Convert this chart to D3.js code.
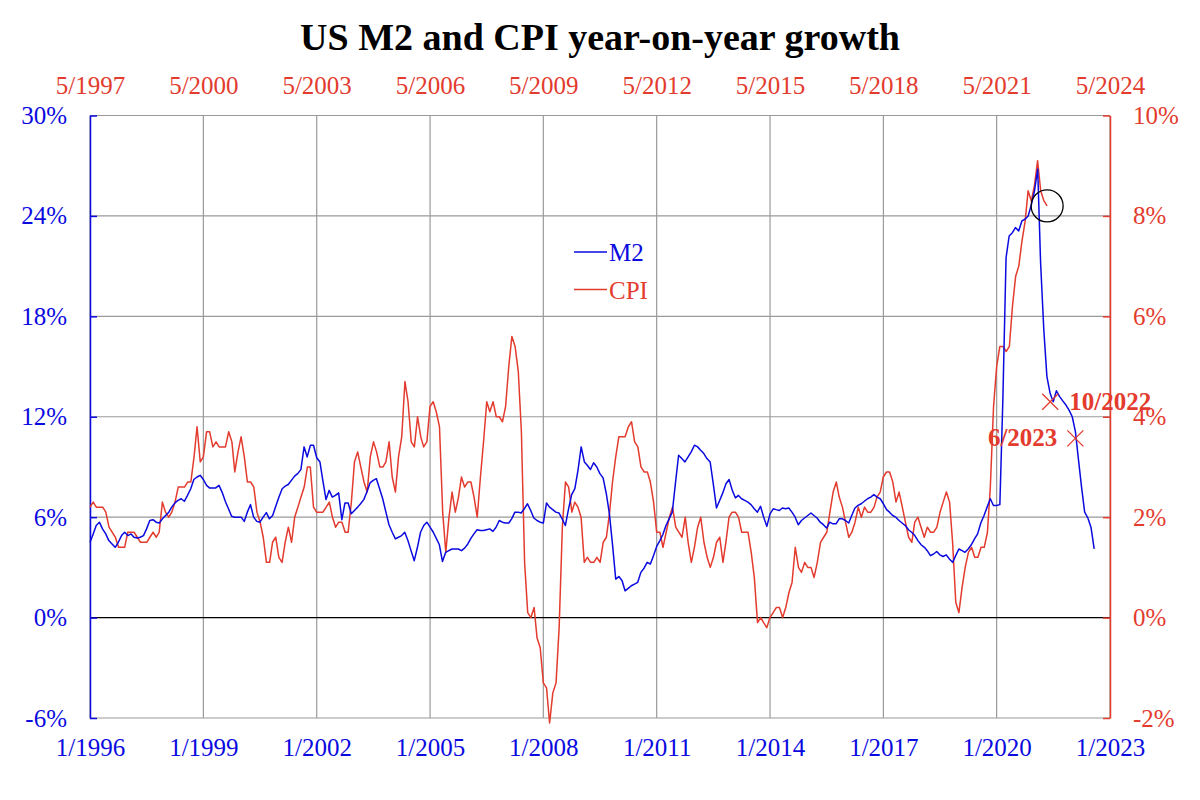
<!DOCTYPE html>
<html>
<head>
<meta charset="utf-8">
<script src="https://cdn.jsdelivr.net/npm/d3@7"></script>
<style>
  body { margin: 0; background: #fff; }
  text { font-family: "Liberation Serif", "Times New Roman", serif; }
</style>
</head>
<body>
<svg id="chart" width="1200" height="800"></svg>
<script>
// M2 year-on-year growth (%), monthly from 1/1996
const m2Start = new Date(1996, 0, 1);
const m2Values = [
  4.5, 5.0, 5.5, 5.7, 5.3, 5.0, 4.6, 4.4, 4.2, 4.5, 4.9, 5.1,
  4.9, 5.0, 4.8, 4.75, 4.8, 4.9, 5.3, 5.8, 5.85, 5.7, 5.65, 5.9,
  6.1, 6.3, 6.6, 6.85, 7.0, 7.1, 6.95, 7.3, 7.7, 8.25, 8.4, 8.5,
  8.25, 7.9, 7.75, 7.75, 7.75, 7.9, 7.5, 6.95, 6.5, 6.05, 6.0, 6.0,
  6.0, 5.75, 6.3, 6.75, 6.0, 5.75, 5.7, 6.0, 6.27, 5.9, 6.1, 6.65,
  7.2, 7.7, 7.85, 7.95, 8.2, 8.45, 8.6, 8.84, 10.2, 9.6, 10.3, 10.3,
  9.55, 9.3, 8.2, 7.05, 7.6, 7.2, 7.3, 7.45, 5.85, 6.85, 6.85, 6.2,
  6.4, 6.6, 6.8, 7.05, 7.5, 8.05, 8.2, 8.3, 7.7, 7.1, 6.3, 5.55,
  5.1, 4.7, 4.8, 4.9, 5.1, 4.6, 4.0, 3.4, 4.2, 5.1, 5.5, 5.7,
  5.4, 5.1, 4.75, 4.35, 3.35, 3.9, 4.0, 4.1, 4.1, 4.1, 4.0, 4.15,
  4.4, 4.75, 5.0, 5.25, 5.2, 5.2, 5.25, 5.3, 5.15, 5.4, 5.8, 5.7,
  5.65, 5.65, 5.9, 6.3, 6.3, 6.25, 6.5, 6.8, 6.4, 5.95, 5.8, 5.7,
  5.65, 6.85, 6.6, 6.45, 6.3, 6.25, 5.9, 5.5, 6.5, 7.35, 7.7, 8.8,
  10.2, 9.3, 9.1, 8.85, 9.25, 9.0, 8.6, 8.35, 7.4, 6.2, 4.3, 2.3,
  2.45, 2.2, 1.6, 1.75, 1.9, 2.0, 2.1, 2.7, 2.95, 3.3, 3.2, 3.7,
  4.25, 4.6, 4.95, 5.5, 5.9, 6.3, 8.0, 9.7, 9.5, 9.3, 9.6, 9.9,
  10.3, 10.2, 10.0, 9.8, 9.5, 9.3, 8.0, 6.55, 7.0, 7.45, 8.0, 8.25,
  7.6, 7.15, 7.3, 7.1, 7.0, 6.9, 6.75, 6.5, 6.3, 6.65, 6.0, 5.45,
  6.2, 6.5, 6.45, 6.4, 6.55, 6.5, 6.55, 6.3, 6.0, 5.55, 5.8, 5.95,
  6.1, 6.25, 6.1, 5.95, 5.7, 5.55, 5.35, 5.7, 5.6, 5.6, 5.9, 5.9,
  5.8, 5.65, 6.1, 6.55, 6.7, 6.8, 6.95, 7.1, 7.2, 7.35, 7.2, 7.1,
  6.8, 6.45, 6.3, 6.1, 6.0, 5.8, 5.65, 5.5, 5.25, 5.1, 4.9, 4.6,
  4.35, 4.2, 4.0, 3.7, 3.8, 3.95, 3.75, 3.65, 3.75, 3.5, 3.3, 3.7,
  4.1, 4.0, 3.9, 4.1, 4.35, 4.7, 5.0, 5.65, 6.1, 6.6, 7.1, 6.7,
  6.7, 6.75, 13.0, 21.5, 22.8, 23.0, 23.3, 23.1, 23.7, 23.8, 24.0, 24.65,
  25.5, 26.8, 21.2, 17.2, 14.4, 13.4, 12.9, 13.55, 13.2, 12.95, 12.7, 12.4,
  12.0, 11.1, 9.5, 7.8, 6.3, 5.95, 5.4, 4.1
];

// CPI year-on-year growth (%), monthly from 5/1997 (plotted on the top axis)
const cpiStart = new Date(1997, 4, 1);
const cpiValues = [
  2.2, 2.3, 2.2, 2.2, 2.2, 2.1, 1.8, 1.7,
  1.6, 1.4, 1.4, 1.4, 1.7, 1.7, 1.7, 1.6, 1.5, 1.5, 1.5, 1.6,
  1.7, 1.6, 1.7, 2.3, 2.1, 2.0, 2.1, 2.3, 2.6, 2.6, 2.6, 2.7,
  2.7, 3.2, 3.8, 3.1, 3.2, 3.7, 3.7, 3.4, 3.5, 3.4, 3.4, 3.4,
  3.7, 3.5, 2.9, 3.3, 3.6, 3.2, 2.7, 2.7, 2.6, 2.1, 1.9, 1.6,
  1.1, 1.1, 1.5, 1.6, 1.2, 1.1, 1.5, 1.8, 1.5, 2.0, 2.2, 2.4,
  2.6, 3.0, 3.0, 2.2, 2.1, 2.1, 2.1, 2.2, 2.3, 2.0, 1.8, 1.9,
  1.9, 1.7, 1.7, 2.3, 3.1, 3.3, 3.0, 2.7, 2.5, 3.2, 3.5, 3.3,
  3.0, 3.0, 3.1, 3.5, 2.8, 2.5, 3.2, 3.6, 4.7, 4.3, 3.5, 3.4,
  4.0, 3.6, 3.4, 3.5, 4.2, 4.3, 4.1, 3.8, 2.1, 1.3, 2.0, 2.5,
  2.1, 2.4, 2.8, 2.6, 2.7, 2.7, 2.4, 2.0, 2.8, 3.5, 4.3, 4.1,
  4.3, 4.0, 4.0, 3.9, 4.2, 5.0, 5.6, 5.4, 4.9, 3.7, 1.1, 0.1,
  0.0, 0.2, -0.4, -0.6, -1.3, -1.4, -2.1, -1.5, -1.3, -0.2, 1.8, 2.7,
  2.6, 2.1, 2.3, 2.2, 2.0, 1.1, 1.2, 1.1, 1.1, 1.2, 1.1, 1.5,
  1.6, 2.1, 2.7, 3.2, 3.6, 3.6, 3.6, 3.8, 3.9, 3.5, 3.4, 3.0,
  2.9, 2.9, 2.7, 2.3, 1.7, 1.7, 1.4, 1.7, 2.0, 2.2, 1.8, 1.7,
  1.6, 2.0, 1.5, 1.1, 1.4, 1.8, 2.0, 1.5, 1.2, 1.0, 1.2, 1.5,
  1.6, 1.1, 1.5, 2.0, 2.1, 2.1, 2.0, 1.7, 1.7, 1.7, 1.3, 0.8,
  -0.1, 0.0, -0.1, -0.2, 0.0, 0.1, 0.2, 0.2, 0.0, 0.2, 0.5, 0.7,
  1.4, 1.0, 0.9, 1.1, 1.0, 1.0, 0.8, 1.1, 1.5, 1.6, 1.7, 2.1,
  2.5, 2.7, 2.4, 2.2, 1.9, 1.6, 1.7, 1.9, 2.2, 2.0, 2.2, 2.1,
  2.1, 2.2, 2.4, 2.5, 2.8, 2.9, 2.9, 2.7, 2.3, 2.5, 2.2, 1.9,
  1.6, 1.5, 1.9, 2.0, 1.8, 1.6, 1.8, 1.7, 1.7, 1.8, 2.1, 2.3,
  2.5, 2.3, 1.5, 0.3, 0.1, 0.6, 1.0, 1.3, 1.4, 1.2, 1.2, 1.4,
  1.4, 1.7, 2.6, 4.2, 5.0, 5.4, 5.4, 5.3, 5.4, 6.2, 6.8, 7.0,
  7.5, 7.9, 8.5, 8.3, 8.6, 9.1, 8.5, 8.3, 8.2
];

// CPI forecast points
const forecastDates = [new Date(2022, 9, 1), new Date(2023, 5, 1)];
const forecastValues = [4.3, 3.57];
const forecastLabels = ['10/2022', '6/2023'];

// axis ticks
const bottomTickLabels = ['1/1996', '1/1999', '1/2002', '1/2005', '1/2008', '1/2011', '1/2014', '1/2017', '1/2020', '1/2023'];
const topTickLabels = ['5/1997', '5/2000', '5/2003', '5/2006', '5/2009', '5/2012', '5/2015', '5/2018', '5/2021', '5/2024'];
const leftTicks = [-6, 0, 6, 12, 18, 24, 30];
const rightTicks = [-2, 0, 2, 4, 6, 8, 10];

const BLUE = '#0a0ae0';
const RED = '#e33b2e';

const svg = d3.select('#chart');
const margin = { top: 115.5, right: 90, bottom: 82, left: 90 };
const width = 1200 - margin.left - margin.right;
const height = 800 - margin.top - margin.bottom;
const g = svg.append('g').attr('transform', `translate(${margin.left},${margin.top})`);

const parseTick = d3.timeParse('%m/%Y');
const bottomDates = bottomTickLabels.map(parseTick);
const topDates = topTickLabels.map(parseTick);

const xBottom = d3.scaleTime().domain([bottomDates[0], bottomDates[bottomDates.length - 1]]).range([0, width]);
const xTop = d3.scaleTime().domain([topDates[0], topDates[topDates.length - 1]]).range([0, width]);
const yLeft = d3.scaleLinear().domain([-6, 30]).range([height, 0]);
const yRight = d3.scaleLinear().domain([-2, 10]).range([height, 0]);

const m2 = m2Values.map((v, i) => ({ date: d3.timeMonth.offset(m2Start, i), value: v }));
const cpi = cpiValues.map((v, i) => ({ date: d3.timeMonth.offset(cpiStart, i), value: v }));

// Title
svg.append('text')
    .attr('x', 600)
    .attr('y', 50)
    .attr('text-anchor', 'middle')
    .attr('font-size', 38)
    .attr('font-weight', 'bold')
    .attr('fill', '#000')
    .text('US M2 and CPI year-on-year growth');

// Grid lines
g.append('g')
    .selectAll('line')
    .data(bottomDates)
    .join('line')
    .attr('x1', d => xBottom(d))
    .attr('x2', d => xBottom(d))
    .attr('y1', 0)
    .attr('y2', height)
    .attr('stroke', '#9a9a9a')
    .attr('stroke-width', 1.2);

g.append('g')
    .selectAll('line')
    .data(leftTicks)
    .join('line')
    .attr('x1', 0)
    .attr('x2', width)
    .attr('y1', d => yLeft(d))
    .attr('y2', d => yLeft(d))
    .attr('stroke', d => d === 0 ? '#000' : '#9a9a9a')
    .attr('stroke-width', 1.2);

// Bottom axis (M2 dates)
const bottomAxis = g.append('g')
    .attr('transform', `translate(0,${height})`)
    .call(d3.axisBottom(xBottom).tickValues(bottomDates).tickSize(0).tickPadding(20)
        .tickFormat((d, i) => bottomTickLabels[i]));
bottomAxis.select('.domain').remove();
bottomAxis.selectAll('text').attr('fill', BLUE).attr('font-size', 25).attr('font-family', null);

// Top axis (CPI dates)
const topAxis = g.append('g')
    .call(d3.axisTop(xTop).tickValues(topDates).tickSize(0).tickPadding(22)
        .tickFormat((d, i) => topTickLabels[i]));
topAxis.select('.domain').remove();
topAxis.selectAll('text').attr('fill', RED).attr('font-size', 25).attr('font-family', null);

// Left axis (M2)
const leftAxis = g.append('g')
    .call(d3.axisLeft(yLeft).tickValues(leftTicks).tickSizeInner(-7).tickSizeOuter(0).tickPadding(23)
        .tickFormat(d => d + '%'));
leftAxis.select('.domain').attr('stroke', BLUE).attr('stroke-width', 1.5);
leftAxis.selectAll('.tick line').attr('stroke', BLUE).attr('stroke-width', 1.5);
leftAxis.selectAll('text').attr('fill', BLUE).attr('font-size', 25).attr('font-family', null);

// Right axis (CPI)
const rightAxis = g.append('g')
    .attr('transform', `translate(${width},0)`)
    .call(d3.axisRight(yRight).tickValues(rightTicks).tickSizeInner(-7).tickSizeOuter(0).tickPadding(23)
        .tickFormat(d => d + '%'));
rightAxis.select('.domain').attr('stroke', RED).attr('stroke-width', 1.5);
rightAxis.selectAll('.tick line').attr('stroke', RED).attr('stroke-width', 1.5);
rightAxis.selectAll('text').attr('fill', RED).attr('font-size', 25).attr('font-family', null);

// Lines
const m2Line = d3.line()
    .x(d => xBottom(d.date))
    .y(d => yLeft(d.value));

const cpiLine = d3.line()
    .x(d => xTop(d.date))
    .y(d => yRight(d.value));

g.append('path')
    .datum(cpi)
    .attr('fill', 'none')
    .attr('stroke', RED)
    .attr('stroke-width', 1.5)
    .attr('stroke-linejoin', 'round')
    .attr('d', cpiLine);

g.append('path')
    .datum(m2)
    .attr('fill', 'none')
    .attr('stroke', BLUE)
    .attr('stroke-width', 1.5)
    .attr('stroke-linejoin', 'round')
    .attr('d', m2Line);

// Circle around the latest CPI reading
const lastCpi = cpi[cpi.length - 1];
g.append('circle')
    .attr('cx', xTop(lastCpi.date))
    .attr('cy', yRight(lastCpi.value))
    .attr('r', 16)
    .attr('fill', 'none')
    .attr('stroke', '#000')
    .attr('stroke-width', 1.3);

// Forecast markers
const forecast = forecastDates.map((d, i) => ({ date: d, value: forecastValues[i], label: forecastLabels[i] }));
const marks = g.append('g')
    .selectAll('g')
    .data(forecast)
    .join('g')
    .attr('transform', d => `translate(${xTop(d.date)},${yRight(d.value)})`);

marks.append('path')
    .attr('d', 'M-8,-8L8,8M-8,8L8,-8')
    .attr('stroke', RED)
    .attr('stroke-width', 1.3)
    .attr('fill', 'none');

marks.append('text')
    .attr('x', (d, i) => i === 0 ? 19 : -18)
    .attr('y', 8)
    .attr('text-anchor', (d, i) => i === 0 ? 'start' : 'end')
    .attr('font-size', 25)
    .attr('font-weight', 'bold')
    .attr('fill', RED)
    .text(d => d.label);

// Legend
const legend = svg.append('g').attr('transform', 'translate(574,252)');
[{ name: 'M2', color: BLUE }, { name: 'CPI', color: RED }].forEach((item, i) => {
    legend.append('line')
        .attr('x1', 0)
        .attr('x2', 33)
        .attr('y1', i * 37.5)
        .attr('y2', i * 37.5)
        .attr('stroke', item.color)
        .attr('stroke-width', 1.5);
    legend.append('text')
        .attr('x', 35)
        .attr('y', i * 37.5 + 9)
        .attr('font-size', 25)
        .attr('fill', item.color)
        .text(item.name);
});
</script>
</body>
</html>
